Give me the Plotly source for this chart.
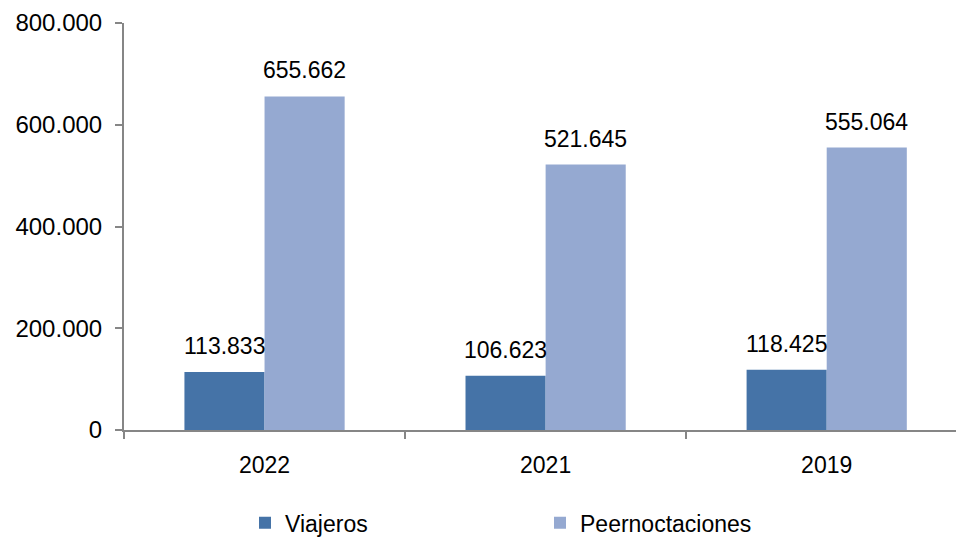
import plotly.graph_objects as go

years = ["2022", "2021", "2019"]
viajeros = [113833, 106623, 118425]
pernoct = [655662, 521645, 555064]
series_names = ["Viajeros", "Peernoctaciones"]
colors = ["#4573A7", "#95A9D1"]
y_ticks = [0, 200000, 400000, 600000, 800000]

def fmt(v):
    return f"{v:,}".replace(",", ".")

fig = go.Figure()
for name, vals, col in zip(series_names, [viajeros, pernoct], colors):
    fig.add_trace(go.Bar(x=years, y=vals, name=name, marker=dict(color=col, line=dict(width=0))))

fig.update_layout(
    width=956, height=537,
    margin=dict(l=124, r=0, t=23, b=107, autoexpand=False),
    paper_bgcolor="white", plot_bgcolor="white",
    barmode="group", bargap=0.43, bargroupgap=0,
    separators=",.",
    font=dict(family="Liberation Sans", size=23, color="#000000"),
    showlegend=True,
    legend=dict(orientation="h", x=0.5, xanchor="center", y=-0.228, yanchor="middle",
                entrywidth=250, font=dict(size=23)),
    xaxis=dict(type="category", range=[-0.5, 2.46], showline=True, linecolor="#868686", linewidth=2,
               ticks="outside", tickson="boundaries", ticklen=7, tickcolor="#868686", tickwidth=2,
               showgrid=False, automargin=False, ticklabelstandoff=13, tickfont=dict(size=23)),
    yaxis=dict(range=[0, 800000], tickvals=y_ticks, tickformat=",d", showline=True, linecolor="#868686",
               linewidth=2, ticks="outside", ticklen=7, tickcolor="#868686", tickwidth=2,
               showgrid=False, zeroline=False, automargin=False, ticklabelstandoff=8,
               tickfont=dict(size=24)),
)

for vals, shift in zip([viajeros, pernoct], [-40, 40]):
    for i, v in enumerate(vals):
        fig.add_annotation(x=i, y=v, xref="x", yref="y", text=fmt(v), showarrow=False,
                           xshift=shift, yshift=11, yanchor="bottom",
                           font=dict(family="Liberation Sans", size=23, color="#000000"))

fig.write_html("out.html", config={"displayModeBar": False},
               post_script="document.body.style.margin='0';")
